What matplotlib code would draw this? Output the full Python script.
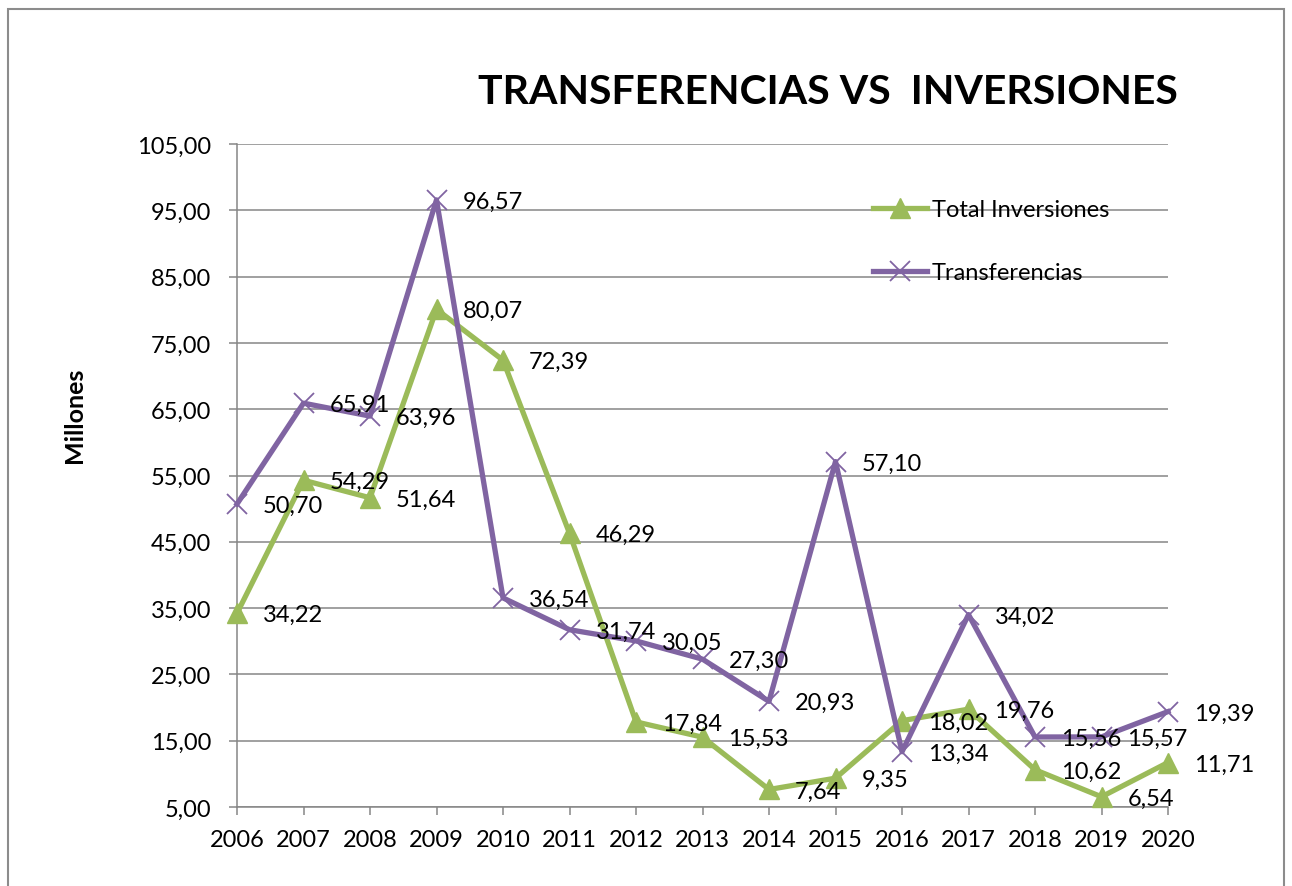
import matplotlib
matplotlib.use("Agg")
import matplotlib.pyplot as plt
from matplotlib.patches import Rectangle
from matplotlib.ticker import FuncFormatter

years = ["2006", "2007", "2008", "2009", "2010", "2011", "2012", "2013",
         "2014", "2015", "2016", "2017", "2018", "2019", "2020"]
inversiones = [34.22, 54.29, 51.64, 80.07, 72.39, 46.29, 17.84, 15.53,
               7.64, 9.35, 18.02, 19.76, 10.62, 6.54, 11.71]
transferencias = [50.70, 65.91, 63.96, 96.57, 36.54, 31.74, 30.05, 27.30,
                  20.93, 57.10, 13.34, 34.02, 15.56, 15.57, 19.39]
yticks = [5, 15, 25, 35, 45, 55, 65, 75, 85, 95, 105]

plt.rcParams['font.family'] = ['Lato', 'DejaVu Sans']

W, H = 1292, 887
fig = plt.figure(figsize=(W / 100, H / 100), dpi=100)
ax = fig.add_axes([237 / W, 1 - 808 / H, (1168 - 237) / W, (808 - 145) / H])

green = "#9BBB59"
purple = "#8064A2"
grid_c = "#868686"
FS = 17

x = list(range(len(years)))
ax.plot(x, inversiones, color=green, lw=3.8, marker="^", markersize=14,
        label="Total Inversiones", zorder=3, clip_on=False)
ax.plot(x, transferencias, color=purple, lw=3.8, marker="x", markersize=14,
        markeredgewidth=1.3, label="Transferencias", zorder=3, clip_on=False)

def fmt(v):
    return f"{v:.2f}".replace(".", ",")

for series in (inversiones, transferencias):
    for xi, v in zip(x, series):
        ax.annotate(fmt(v), (xi, v), xytext=(18.7, -1), textcoords="offset points",
                    ha="left", va="center", fontsize=FS, color="black", zorder=5,
                    annotation_clip=False)

ax.set_xlim(0, len(years) - 1)
ax.set_ylim(5, 105)
ax.set_yticks(yticks)
ax.yaxis.set_major_formatter(FuncFormatter(lambda v, p: fmt(v)))
ax.set_xticks(x)
ax.set_xticklabels(years)

ax.grid(axis="y", color=grid_c, lw=1.1)
ax.set_axisbelow(True)
for s in ("top", "right"):
    ax.spines[s].set_visible(False)
for s in ("left", "bottom"):
    ax.spines[s].set_color(grid_c)
    ax.spines[s].set_linewidth(1.1)
ax.tick_params(axis="y", length=5.5, width=1.1, color=grid_c, pad=13, labelsize=FS)
ax.tick_params(axis="x", length=6, width=1.1, color=grid_c, pad=10, labelsize=FS)

leg = ax.legend(loc="upper left", bbox_to_anchor=(873 / W, 1 - 200 / H),
                bbox_transform=fig.transFigure, frameon=False, fontsize=FS,
                handlelength=2.3, handletextpad=0.2, labelspacing=1.78,
                borderaxespad=0, borderpad=0)

fig.text(828 / W, 1 - 92 / H, "TRANSFERENCIAS VS  INVERSIONES", ha="center",
         va="center", fontsize=29.5, fontweight="bold")
fig.text(75 / W, 1 - 415 / H, "Millones", rotation=90, ha="center", va="center",
         fontsize=18, fontweight="bold")

fig.patches.append(Rectangle((8 / W, -0.05), (1284 - 8) / W, 1.05 - 10 / H,
                             transform=fig.transFigure, fill=False,
                             edgecolor="#8c8c8c", lw=1.5))

fig.savefig("out.png", dpi=100)
